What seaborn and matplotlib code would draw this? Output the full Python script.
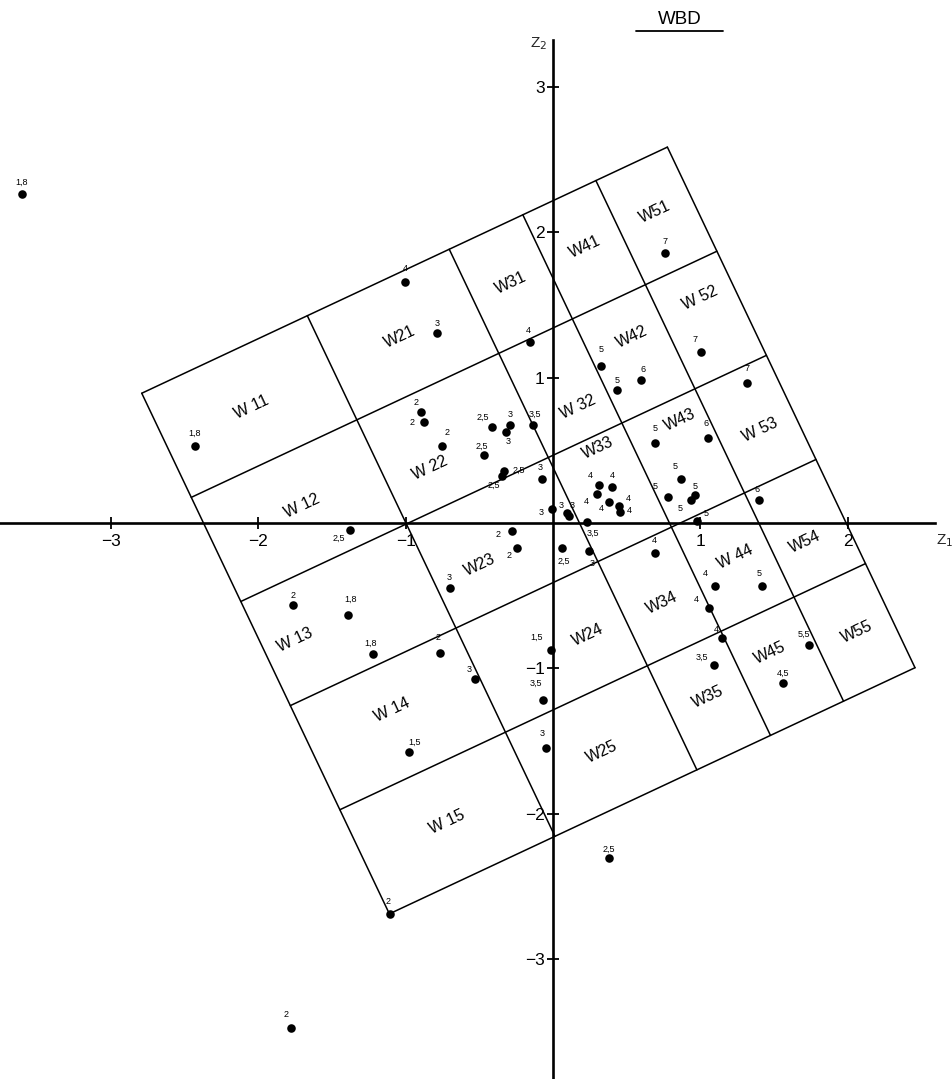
import matplotlib
matplotlib.use("Agg")
import numpy as np
import pandas as pd
import matplotlib.pyplot as plt
from matplotlib.lines import Line2D
from matplotlib.ticker import FixedLocator
import seaborn as sns

# ---------------------------------------------------------------------------
# Sample scores on the two discriminant axes (Z1, Z2) and their class values
# ---------------------------------------------------------------------------
z1 = [-3.605, -2.429, -1.004, -0.789, -0.158, 0.760, 0.324, 0.436, 0.595, 1.006,
      1.318, -0.896, -0.877, -0.753, -0.414, -0.292, -0.317, -0.468, -0.138, -0.330,
      -0.348, -0.072, -0.005, 0.093, 0.111, 0.229, 0.310, 0.402, 0.301, 0.382,
      0.450, 0.455, 0.692, 1.050, 0.868, 0.780, 0.936, 0.966, 1.398, 0.975,
      -1.377, -0.278, -0.244, 0.059, 0.246, -0.699, 0.694, 1.101, 1.416, 1.058,
      1.149, 1.094, 1.737, 1.563, -1.766, -1.389, -1.219, -0.767, -0.527, -0.975,
      -0.016, -0.066, -0.047, 0.382, -1.106, -1.780]
z2 = [2.262, 0.532, 1.661, 1.306, 1.248, 1.860, 1.083, 0.915, 0.982, 1.177,
      0.961, 0.762, 0.693, 0.532, 0.661, 0.672, 0.626, 0.468, 0.677, 0.360,
      0.326, 0.305, 0.094, 0.067, 0.048, 0.007, 0.259, 0.246, 0.200, 0.142,
      0.119, 0.074, 0.548, 0.583, 0.303, 0.177, 0.158, 0.191, 0.160, 0.016,
      -0.048, -0.055, -0.170, -0.174, -0.193, -0.445, -0.204, -0.434, -0.434, -0.583,
      -0.789, -0.977, -0.840, -1.099, -0.564, -0.633, -0.902, -0.893, -1.076, -1.576,
      -0.876, -1.218, -1.546, -2.308, -2.693, -3.473]
value = [1.8, 1.8, 4, 3, 4, 7, 5, 5, 6, 7,
         7, 2, 2, 2, 2.5, 3, 3, 2.5, 3.5, 2.5,
         2.5, 3, 3, 3, 3, 3.5, 4, 4, 4, 4,
         4, 4, 5, 6, 5, 5, 5, 5, 6, 5,
         2.5, 2, 2, 2.5, 3, 3, 4, 4, 5, 4,
         4, 3.5, 5.5, 4.5, 2, 1.8, 1.8, 2, 3, 1.5,
         1.5, 3.5, 3, 2.5, 2, 2]

# Classification grid: a corner, its two edge vectors and the cut fractions
grid_corner = (-2.790, 0.893)
grid_u = (3.566, 1.694)
grid_v = (1.680, -3.583)
col_cuts = [0.0, 0.315, 0.585, 0.725, 0.864, 1.0]
row_cuts = [0.0, 0.2, 0.4, 0.6, 0.8, 1.0]

cell_names = ["W 11", "W 12", "W 13", "W 14", "W 15",
              "W21", "W 22", "W23", "W24", "W25",
              "W31", "W 32", "W33", "W34", "W35",
              "W41", "W42", "W43", "W 44", "W45",
              "W51", "W 52", "W 53", "W54", "W55"]

x_ticks = [-3, -2, -1, 1, 2]
y_ticks = [-3, -2, -1, 1, 2, 3]

# ---------------------------------------------------------------------------
# Layout: where each cell name sits, and pixel offsets for the value labels
# ---------------------------------------------------------------------------
cell_label_pos = [(-2.044, 0.800), (-1.705, 0.117), (-1.750, -0.805), (-1.094, -1.287), (-0.721, -2.056),
                  (-1.038, 1.282), (-0.834, 0.379), (-0.495, -0.289), (0.239, -0.771), (0.330, -1.574),
                  (-0.287, 1.654), (0.172, 0.800), (0.307, 0.514), (0.737, -0.553), (1.054, -1.195),
                  (0.217, 1.902), (0.534, 1.282), (0.862, 0.709), (1.235, -0.232), (1.472, -0.897),
                  (0.692, 2.142), (0.997, 1.549), (1.404, 0.640), (1.710, -0.129), (2.060, -0.748)]

label_offsets = [(0, 12), (0, 12), (0, 13), (0, 10), (-1, 11), (0, 11), (0, 16), (0, 10), (2, 11), (-6, 12),
                 (0, 15), (-5, 10), (-12, 0), (5, 13), (-9, 10), (0, 11), (2, -9), (-2, 9), (2, 10), (14, 0),
                 (-8, -10), (-2, 11), (-11, -3), (-6, 8), (3, 11), (6, -11), (-8, 10), (0, 12), (-11, -8), (-8, -6),
                 (9, 7), (9, 2), (0, 15), (-2, 15), (-6, 12), (-13, 11), (-11, -8), (0, 9), (-2, 10), (9, 7),
                 (-11, -8), (-14, -4), (-8, -8), (2, -13), (3, -12), (-1, 10), (-1, 12), (-10, 13), (-3, 13), (-13, 8),
                 (-6, 8), (-12, 8), (-5, 11), (0, 9), (0, 9), (2, 16), (-3, 11), (-2, 15), (-6, 10), (5, 10),
                 (-14, 13), (-7, 17), (-4, 14), (0, 9), (-2, 13), (-5, 13)]

# ---------------------------------------------------------------------------
sns.set_theme(style="white")
plt.rcParams["font.family"] = ["Liberation Sans", "DejaVu Sans"]
plt.rcParams["axes.unicode_minus"] = True

W, H, DPI = 952, 1079, 100
fig = plt.figure(figsize=(W / DPI, H / DPI), dpi=DPI, facecolor="white")
ax = fig.add_axes([0, 0, 1, 1])
ax.set_facecolor("white")

# pixel scale of the axis units
x0_px, y0_px, ux_px, uy_px = 553.0, 523.0, 147.4, 145.3
ax.set_xlim(-x0_px / ux_px, (W - x0_px) / ux_px)
ax.set_ylim((y0_px - H) / uy_px, y0_px / uy_px)

# coordinate axes through the origin
for side in ("top", "right"):
    ax.spines[side].set_visible(False)
ax.spines["left"].set_position(("data", 0))
ax.spines["bottom"].set_position(("data", 0))
ax.spines["left"].set_bounds((y0_px - H) / uy_px, (y0_px - 40) / uy_px)
ax.spines["bottom"].set_bounds(-x0_px / ux_px, (935 - x0_px) / ux_px)
for side in ("left", "bottom"):
    ax.spines[side].set_linewidth(1.9)
    ax.spines[side].set_color("black")

ax.xaxis.set_major_locator(FixedLocator(x_ticks))
ax.yaxis.set_major_locator(FixedLocator(y_ticks))
ax.set_xticklabels([f"{t:d}".replace("-", "\u2212") for t in x_ticks])
ax.set_yticklabels([f"{t:d}".replace("-", "\u2212") for t in y_ticks])
ax.tick_params(axis="both", direction="inout", length=8, width=1.3, color="black",
               labelsize=12.5, labelcolor="black", pad=3)
ax.tick_params(axis="x", bottom=True, pad=4)
ax.tick_params(axis="y", left=True, pad=2)
ax.grid(False)

# classification grid lines
corner = np.array(grid_corner)
u = np.array(grid_u)
v = np.array(grid_v)
for c in col_cuts:
    p0 = corner + c * u
    p1 = p0 + v
    ax.plot([p0[0], p1[0]], [p0[1], p1[1]], color="black", lw=1.1, solid_capstyle="round")
for r in row_cuts:
    p0 = corner + r * v
    p1 = p0 + u
    ax.plot([p0[0], p1[0]], [p0[1], p1[1]], color="black", lw=1.1, solid_capstyle="round")

angle = np.degrees(np.arctan2(grid_u[1] * uy_px, grid_u[0] * ux_px))
for name, (cx, cy) in zip(cell_names, cell_label_pos):
    ax.text(cx, cy, name, rotation=angle, rotation_mode="anchor", ha="center", va="center",
            fontsize=11.5, color="black")

# samples
df = pd.DataFrame({"z1": z1, "z2": z2, "value": value})
sns.scatterplot(data=df, x="z1", y="z2", color="black", s=38, linewidth=0, ax=ax, zorder=5,
                legend=False)
for (px, py, val), (dx, dy) in zip(df[["z1", "z2", "value"]].itertuples(index=False), label_offsets):
    txt = f"{val:g}".replace(".", ",")
    ax.annotate(txt, (px, py), xytext=(dx, dy), textcoords="offset pixels",
                ha="center", va="center", fontsize=6.5, color="black", zorder=6)

ax.set_xlabel("")
ax.set_ylabel("")

# axis names
fig.text(936 / W, 1 - 541 / H, "Z$_1$", fontsize=11, ha="left", va="center")
fig.text(539 / W, 1 - 44 / H, "Z$_2$", fontsize=11, ha="center", va="center")

# title with underline
fig.text(680 / W, 1 - 19 / H, "WBD", fontsize=13.5, ha="center", va="center", color="black")
fig.add_artist(Line2D([636 / W, 723 / W], [1 - 31 / H, 1 - 31 / H], transform=fig.transFigure,
                      color="black", lw=1.3))

fig.savefig("out.png", dpi=DPI, facecolor="white")
